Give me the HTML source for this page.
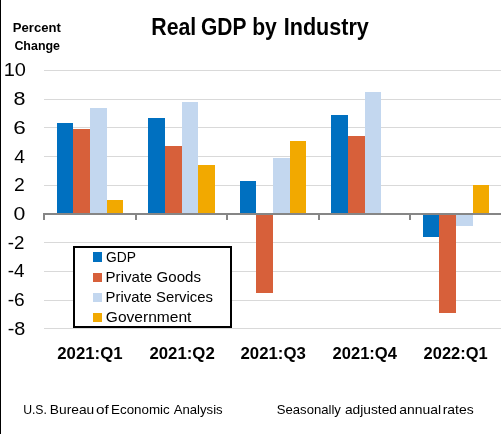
<!DOCTYPE html>
<html><head><meta charset="utf-8"><style>
html,body{margin:0;padding:0;background:#fff;width:502px;height:434px;overflow:hidden}
svg{display:block;will-change:transform;font-family:"Liberation Sans",sans-serif}
</style></head><body>
<svg width="502" height="434" viewBox="0 0 502 434">
<rect x="0" y="0" width="502" height="434" fill="#fff"/>
<rect x="0" y="0" width="1" height="434" fill="#000"/>
<rect x="44" y="70" width="457" height="1" fill="#D9D9D9"/>
<rect x="44" y="99" width="457" height="1" fill="#D9D9D9"/>
<rect x="44" y="127" width="457" height="1" fill="#D9D9D9"/>
<rect x="44" y="156" width="457" height="1" fill="#D9D9D9"/>
<rect x="44" y="185" width="457" height="1" fill="#D9D9D9"/>
<rect x="44" y="242" width="457" height="1" fill="#D9D9D9"/>
<rect x="44" y="271" width="457" height="1" fill="#D9D9D9"/>
<rect x="44" y="300" width="457" height="1" fill="#D9D9D9"/>
<rect x="44" y="328" width="457" height="1" fill="#D9D9D9"/>
<rect x="57" y="123" width="16" height="90" fill="#0070C0"/>
<rect x="73" y="129" width="17" height="84" fill="#D7603A"/>
<rect x="90" y="108" width="17" height="105" fill="#C3D7EF"/>
<rect x="107" y="200" width="16" height="13" fill="#F2A900"/>
<rect x="148" y="118" width="17" height="95" fill="#0070C0"/>
<rect x="165" y="146" width="17" height="67" fill="#D7603A"/>
<rect x="182" y="102" width="16" height="111" fill="#C3D7EF"/>
<rect x="198" y="165" width="17" height="48" fill="#F2A900"/>
<rect x="240" y="181" width="16" height="32" fill="#0070C0"/>
<rect x="256" y="215" width="17" height="78" fill="#D7603A"/>
<rect x="273" y="158" width="17" height="55" fill="#C3D7EF"/>
<rect x="290" y="141" width="16" height="72" fill="#F2A900"/>
<rect x="331" y="115" width="17" height="98" fill="#0070C0"/>
<rect x="348" y="136" width="17" height="77" fill="#D7603A"/>
<rect x="365" y="92" width="16" height="121" fill="#C3D7EF"/>
<rect x="423" y="215" width="16" height="22" fill="#0070C0"/>
<rect x="439" y="215" width="17" height="98" fill="#D7603A"/>
<rect x="456" y="215" width="17" height="11" fill="#C3D7EF"/>
<rect x="473" y="185" width="16" height="28" fill="#F2A900"/>
<rect x="44" y="213" width="457" height="2" fill="#868686"/>
<rect x="43" y="213" width="2" height="7" fill="#868686"/>
<rect x="135" y="213" width="2" height="7" fill="#868686"/>
<rect x="226" y="213" width="2" height="7" fill="#868686"/>
<rect x="318" y="213" width="2" height="7" fill="#868686"/>
<rect x="409" y="213" width="2" height="7" fill="#868686"/>
<path d="M73 246h159v82h-159z M75 248v78h155v-78z" fill="#000" fill-rule="evenodd"/>
<rect x="75" y="248" width="155" height="78" fill="#fff"/>
<rect x="93" y="252" width="9" height="10" fill="#0070C0"/>
<rect x="93" y="273" width="9" height="9" fill="#D7603A"/>
<rect x="93" y="293" width="9" height="9" fill="#C3D7EF"/>
<rect x="93" y="313" width="9" height="9" fill="#F2A900"/>
<text x="151.30" y="34.90" font-size="23" font-weight="bold" fill="#000" textLength="45.00" lengthAdjust="spacingAndGlyphs">Real</text>
<text x="201.05" y="34.90" font-size="23" font-weight="bold" fill="#000" textLength="45.39" lengthAdjust="spacingAndGlyphs">GDP</text>
<text x="252.22" y="34.90" font-size="23" font-weight="bold" fill="#000" textLength="24.63" lengthAdjust="spacingAndGlyphs">by</text>
<text x="283.72" y="34.90" font-size="23" font-weight="bold" fill="#000" textLength="85.13" lengthAdjust="spacingAndGlyphs">Industry</text>
<text x="12.83" y="31.80" font-size="12.8" font-weight="bold" fill="#000" textLength="47.97" lengthAdjust="spacingAndGlyphs">Percent</text>
<text x="14.39" y="49.70" font-size="12.8" font-weight="bold" fill="#000" textLength="45.67" lengthAdjust="spacingAndGlyphs">Change</text>
<text x="57.29" y="359.00" font-size="17" font-weight="bold" fill="#000" textLength="65.27" lengthAdjust="spacingAndGlyphs">2021:Q1</text>
<text x="149.44" y="359.00" font-size="17" font-weight="bold" fill="#000" textLength="65.28" lengthAdjust="spacingAndGlyphs">2021:Q2</text>
<text x="240.49" y="359.00" font-size="17" font-weight="bold" fill="#000" textLength="65.32" lengthAdjust="spacingAndGlyphs">2021:Q3</text>
<text x="332.54" y="359.00" font-size="17" font-weight="bold" fill="#000" textLength="64.41" lengthAdjust="spacingAndGlyphs">2021:Q4</text>
<text x="423.59" y="359.00" font-size="17" font-weight="bold" fill="#000" textLength="64.07" lengthAdjust="spacingAndGlyphs">2022:Q1</text>
<text x="106.09" y="261.70" font-size="15" font-weight="normal" fill="#000" textLength="29.93" lengthAdjust="spacingAndGlyphs">GDP</text>
<text x="105.58" y="281.90" font-size="15" font-weight="normal" fill="#000" textLength="95.39" lengthAdjust="spacingAndGlyphs">Private Goods</text>
<text x="105.58" y="301.70" font-size="15" font-weight="normal" fill="#000" textLength="107.38" lengthAdjust="spacingAndGlyphs">Private Services</text>
<text x="105.84" y="321.60" font-size="15" font-weight="normal" fill="#000" textLength="85.56" lengthAdjust="spacingAndGlyphs">Government</text>
<text x="23.13" y="413.70" font-size="12.7" font-weight="normal" fill="#000" textLength="23.83" lengthAdjust="spacingAndGlyphs">U.S.</text>
<text x="49.87" y="413.70" font-size="12.7" font-weight="normal" fill="#000" textLength="44.35" lengthAdjust="spacingAndGlyphs">Bureau</text>
<text x="96.00" y="413.70" font-size="12.7" font-weight="normal" fill="#000" textLength="12.79" lengthAdjust="spacingAndGlyphs">of</text>
<text x="111.07" y="413.70" font-size="12.7" font-weight="normal" fill="#000" textLength="58.70" lengthAdjust="spacingAndGlyphs">Economic</text>
<text x="173.75" y="413.70" font-size="12.7" font-weight="normal" fill="#000" textLength="48.90" lengthAdjust="spacingAndGlyphs">Analysis</text>
<text x="276.77" y="413.70" font-size="12.7" font-weight="normal" fill="#000" textLength="64.14" lengthAdjust="spacingAndGlyphs">Seasonally</text>
<text x="344.93" y="413.70" font-size="12.7" font-weight="normal" fill="#000" textLength="52.11" lengthAdjust="spacingAndGlyphs">adjusted</text>
<text x="399.32" y="413.70" font-size="12.7" font-weight="normal" fill="#000" textLength="41.78" lengthAdjust="spacingAndGlyphs">annual</text>
<text x="442.68" y="413.70" font-size="12.7" font-weight="normal" fill="#000" textLength="31.07" lengthAdjust="spacingAndGlyphs">rates</text>
<text x="3.74" y="76.40" font-size="18.5" font-weight="normal" fill="#000" textLength="22.22" lengthAdjust="spacingAndGlyphs">10</text>
<text x="13.55" y="105.12" font-size="18.5" font-weight="normal" fill="#000" textLength="11.98" lengthAdjust="spacingAndGlyphs">8</text>
<text x="13.26" y="133.84" font-size="18.5" font-weight="normal" fill="#000" textLength="12.56" lengthAdjust="spacingAndGlyphs">6</text>
<text x="14.26" y="162.56" font-size="18.5" font-weight="normal" fill="#000" textLength="10.70" lengthAdjust="spacingAndGlyphs">4</text>
<text x="14.10" y="191.28" font-size="18.5" font-weight="normal" fill="#000" textLength="10.75" lengthAdjust="spacingAndGlyphs">2</text>
<text x="13.63" y="220.00" font-size="18.5" font-weight="normal" fill="#000" textLength="11.84" lengthAdjust="spacingAndGlyphs">0</text>
<text x="7.73" y="248.72" font-size="18.5" font-weight="normal" fill="#000" textLength="16.67" lengthAdjust="spacingAndGlyphs">-2</text>
<text x="7.73" y="277.44" font-size="18.5" font-weight="normal" fill="#000" textLength="16.77" lengthAdjust="spacingAndGlyphs">-4</text>
<text x="7.71" y="306.16" font-size="18.5" font-weight="normal" fill="#000" textLength="17.08" lengthAdjust="spacingAndGlyphs">-6</text>
<text x="7.67" y="334.88" font-size="18.5" font-weight="normal" fill="#000" textLength="17.64" lengthAdjust="spacingAndGlyphs">-8</text>
</svg>
</body></html>
